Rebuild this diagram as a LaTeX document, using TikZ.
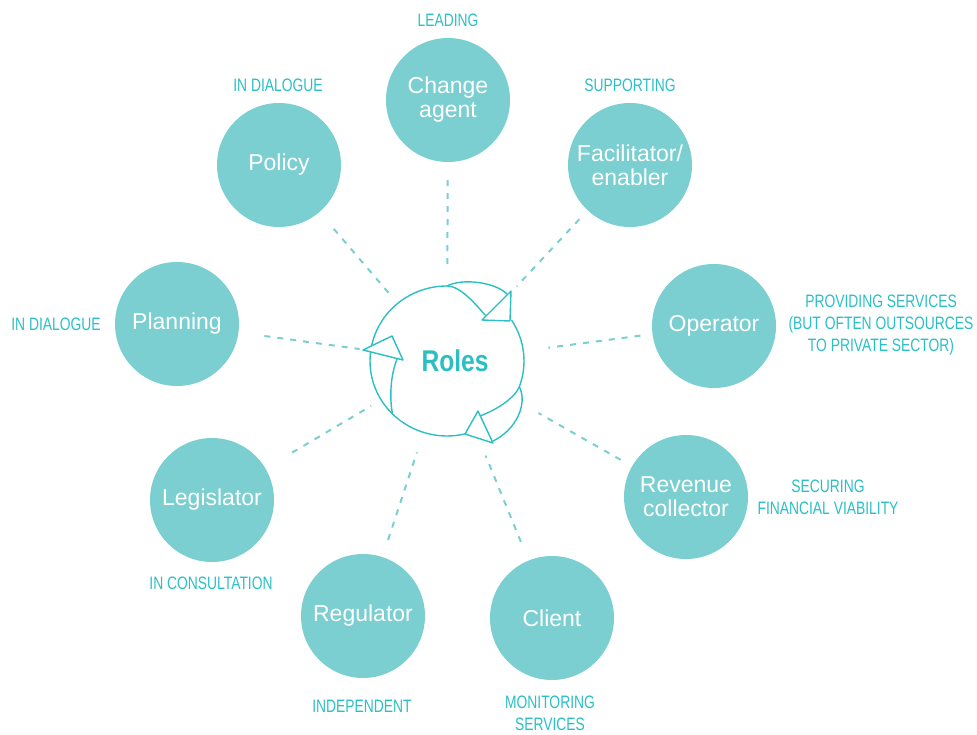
\documentclass[tikz,border=0pt]{standalone}
\usepackage{fontspec}
\usetikzlibrary{calc}
\setmainfont{Liberation Sans}
\newfontfamily\condfont[FakeStretch=0.77]{Liberation Sans}
\newfontfamily\rolesfont[FakeStretch=0.82]{Liberation Sans}
\definecolor{circfill}{HTML}{7BCFD1}
\definecolor{labteal}{HTML}{2ABFC5}
\definecolor{ringteal}{HTML}{2CBFC2}
\tikzset{
  role/.style={circle, fill=circfill, minimum size=124pt, inner sep=0pt, text=white,
    font=\fontsize{23}{24}\selectfont, align=center},
  lab/.style={text=labteal, font=\condfont\fontsize{18}{22}\selectfont, align=center, inner sep=0pt},
  conn/.style={draw=circfill, line width=2pt, dash pattern=on 6pt off 7pt},
  ring/.style={draw=ringteal, line width=1.4pt, line join=round},
  tri/.style={draw=ringteal, fill=white, line width=1.4pt, line join=round}
}
\begin{document}
\begin{tikzpicture}[x=1pt,y=-1pt]
\useasboundingbox (0,0) rectangle (977,735);

% role circles
\node[role] (ca)  at (448,100) {Change\\agent};
\node[role] (pol) at (279,165) {Policy};
\node[role] (fac) at (630,165) {Facilitator/\\enabler};
\node[role] (pla) at (177,324) {Planning};
\node[role] (ope) at (714,326) {Operator};
\node[role] (leg) at (212,500) {Legislator};
\node[role] (rev) at (686,497) {Revenue\\collector};
\node[role] (reg) at (363,616) {Regulator};
\node[role] (cli) at (552,618) {Client};

% centre
\coordinate (C) at (447,361);
\node[circle, minimum size=152pt, inner sep=0pt] (roles) at (C) {};
\node[text=ringteal, font=\rolesfont\bfseries\fontsize{30}{30}\selectfont, inner sep=0pt] (rolestxt) at (455,361) {Roles};

% labels
\node[lab] (l1) at (448,20) {LEADING};
\node[lab] (l2) at (278,85) {IN DIALOGUE};
\node[lab] (l3) at (630,85) {SUPPORTING};
\node[lab] (l4) at (56,324) {IN DIALOGUE};
\node[lab] (l5) at (881,325) {PROVIDING SERVICES\\(BUT OFTEN OUTSOURCES\\TO PRIVATE SECTOR)};
\node[lab] (l6) at (828,497) {SECURING\\FINANCIAL VIABILITY};
\node[lab] (l7) at (211,583) {IN CONSULTATION};
\node[lab] (l8) at (362,706) {INDEPENDENT};
\node[lab] (l9) at (550,713) {MONITORING\\SERVICES};

% dashed connectors
\draw[conn, shorten <=18pt, shorten >=15pt] (ca) -- (roles);
\draw[conn, shorten <=22pt, shorten >=9pt] (pol) -- (roles);
\draw[conn, shorten <=12pt, shorten >=26pt] (fac) -- (roles);
\draw[conn, shorten <=26pt, shorten >=12pt] (pla) -- (roles);
\draw[conn, shorten <=12pt, shorten >=26pt] (ope) -- (roles);
\draw[conn, shorten <=13pt, shorten >=29pt] (rev) -- (roles);
\draw[conn, shorten <=20pt, shorten >=26pt] (cli) -- (roles);
\draw[conn, shorten <=18pt, shorten >=20pt] (reg) -- (roles);
\draw[conn, shorten <=31pt, shorten >=12pt] (leg) -- (roles);

% cycle ring (ellipse rx=77, ry=75 about C)
% arrow 1 (top)
\draw[ring] ($(C)+({77*cos(192)},{75*sin(192)})$) arc[start angle=192, end angle=270, x radius=77, y radius=75]
   coordinate (t1) .. controls (461,286) and (476,305) .. (486,316);
\draw[ring] (t1) .. controls (462,278) and (495,282) .. (507,294);
% arrow 2 (right)
\draw[ring] ($(C)+({77*cos(-33)},{75*sin(-33)})$) arc[start angle=-33, end angle=20, x radius=77, y radius=75]
   coordinate (t2) .. controls +(-5,12) and (496,410) .. (480,416);
\draw[ring] (t2) .. controls (528,404) and (516,430) .. (493,441);
% arrow 3 (bottom / left)
\draw[ring] ($(C)+({77*cos(76.5)},{75*sin(76.5)})$) arc[start angle=76.5, end angle=135, x radius=77, y radius=75]
   coordinate (t3) .. controls (389,396) and (391,374) .. (397,359);
\draw[ring] (t3) arc[start angle=135, end angle=187, x radius=77, y radius=75];
% heads
\draw[tri] (511,291) -- (482,320) -- (510,321) -- cycle;
\draw[tri] (478,411) -- (493,443) -- (465,434) -- cycle;
\draw[tri] (363,350) -- (392,336) -- (403,360) -- cycle;
\end{tikzpicture}
\end{document}
